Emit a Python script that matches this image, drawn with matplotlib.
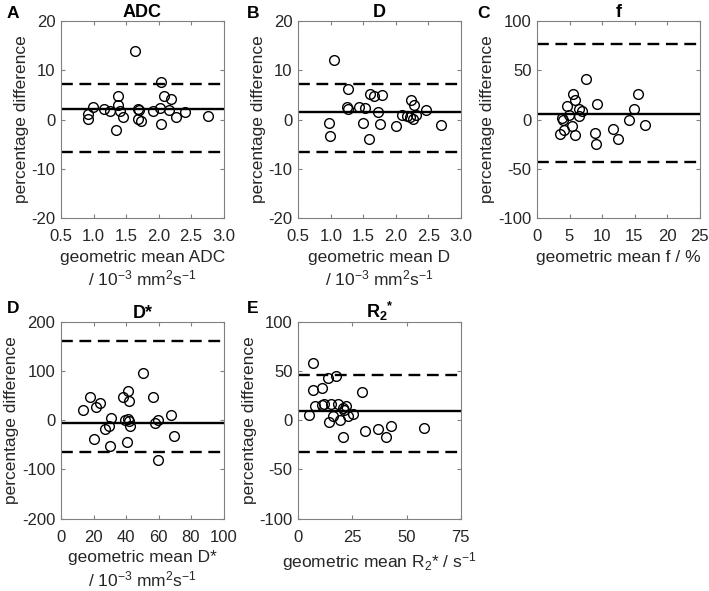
import numpy as np
import matplotlib
matplotlib.use("Agg")
import matplotlib.pyplot as plt

plt.rcParams['font.family'] = ['Liberation Sans', 'DejaVu Sans']
plt.rcParams['mathtext.fontset'] = 'custom'
plt.rcParams['mathtext.rm'] = 'Liberation Sans'
plt.rcParams['mathtext.it'] = 'Liberation Sans'
plt.rcParams['mathtext.bf'] = 'Liberation Sans:bold'
plt.rcParams['mathtext.default'] = 'regular'
plt.rcParams['axes.unicode_minus'] = False

# ADC
adc_x = [1.64, 2.04, 2.08, 2.19, 1.37, 1.38, 0.99, 1.16, 1.25, 1.41, 1.69, 1.70, 1.92,
         2.02, 2.16, 2.41, 0.91, 0.92, 1.45, 1.68, 1.73, 2.27, 2.76, 2.04, 1.35]
adc_y = [13.9, 7.6, 4.75, 4.1, 4.7, 3.0, 2.5, 2.2, 1.8, 1.8, 2.2, 2.0, 1.8,
         2.3, 2.0, 1.5, 1.15, 0.15, 0.5, 0.15, -0.4, 0.5, 0.75, -0.9, -2.1]
adc_lines = [2.08, 7.15, -6.5]

# D
d_x = [1.05, 1.26, 1.60, 1.67, 1.79, 2.23, 2.28, 1.25, 1.26, 1.44, 1.53, 1.73, 2.47,
       2.09, 2.17, 2.22, 2.26, 2.31, 0.97, 1.49, 1.76, 2.01, 2.69, 0.98, 1.58]
d_y = [12.1, 6.1, 5.1, 4.7, 4.95, 3.86, 2.85, 2.58, 2.17, 2.5, 2.24, 1.56, 2.03,
       0.95, 0.81, 0.54, 0.2, 0.95, -0.61, -0.75, -0.88, -1.36, -1.02, -3.39, -3.93]
d_lines = [1.52, 7.15, -6.5]

# f
f_x = [7.47, 5.57, 15.57, 5.88, 4.54, 9.28, 6.39, 6.91, 14.85, 4.95, 6.49, 3.92,
       4.02, 14.18, 5.41, 16.55, 4.12, 11.75, 3.61, 5.82, 8.87, 12.53, 9.02]
f_y = [40.7, 25.4, 25.4, 20.3, 14.2, 15.9, 10.8, 8.5, 10.5, 4.4, 3.05, 2.0,
       0.0, 0.0, -6.4, -5.1, -10.8, -9.8, -14.6, -15.9, -14.2, -19.3, -24.4]
f_lines = [5.9, 76.4, -42.8]

# D*
ds_x = [50.3, 41.2, 18.1, 38.4, 56.5, 42.1, 24.3, 21.6, 13.4, 30.5, 67.6, 39.6,
        41.0, 41.6, 59.6, 57.7, 42.3, 29.5, 27.0, 69.7, 20.2, 40.6, 30.3, 59.6]
ds_y = [94.9, 59.7, 46.1, 46.8, 46.1, 38.6, 35.3, 25.8, 21.0, 4.1, 10.2, 1.4,
        2.7, -1.4, 1.4, -6.1, -11.5, -12.2, -16.9, -32.5, -38.6, -44.1, -51.5, -81.4]
ds_lines = [-5.9, 161.0, -63.7]

# R2*
r2_x = [6.6, 17.6, 13.5, 6.7, 10.9, 29.2, 7.5, 11.0, 11.8, 14.9, 18.5, 21.9, 20.4,
        21.1, 5.1, 16.2, 25.3, 23.0, 14.1, 19.1, 30.6, 36.8, 42.6, 40.4, 58.0, 20.7]
r2_y = [58.0, 44.7, 43.1, 30.5, 32.2, 28.8, 14.9, 15.9, 16.3, 16.3, 16.6, 14.9, 12.2,
        10.2, 5.1, 4.4, 6.1, 4.1, -2.0, 0.7, -10.5, -8.5, -5.4, -16.6, -7.8, -17.3]
r2_lines = [9.7, 45.4, -31.8]

panels = [
    ('A', 'ADC', adc_x, adc_y, adc_lines, (0.5, 3.0), np.arange(0.5, 3.01, 0.5), '%.1f', (-20, 20), np.arange(-20, 21, 10),
     'geometric mean ADC\n/ 10$^{-3}$ mm$^{2}$s$^{-1}$'),
    ('B', 'D', d_x, d_y, d_lines, (0.5, 3.0), np.arange(0.5, 3.01, 0.5), '%.1f', (-20, 20), np.arange(-20, 21, 10),
     'geometric mean D\n/ 10$^{-3}$ mm$^{2}$s$^{-1}$'),
    ('C', 'f', f_x, f_y, f_lines, (0, 25), np.arange(0, 26, 5), '%d', (-100, 100), np.arange(-100, 101, 50),
     'geometric mean f / %'),
    ('D', 'D*', ds_x, ds_y, ds_lines, (0, 100), np.arange(0, 101, 20), '%d', (-200, 200), np.arange(-200, 201, 100),
     'geometric mean D*\n/ 10$^{-3}$ mm$^{2}$s$^{-1}$'),
    ('E', 'R$_2$$^{*}$', r2_x, r2_y, r2_lines, (0, 75), np.arange(0, 76, 25), '%d', (-100, 100), np.arange(-100, 101, 50),
     'geometric mean R$_2$* / s$^{-1}$'),
]

W, H = 709, 591
fig = plt.figure(figsize=(W / 100, H / 100), dpi=100)
lefts = [61, 298.3, 537]
tops = [21, 321.7]
aw, ah = 162.5, 197
# panel letter offsets (px) from the axes corner
letter_dx = [54, 51, 60, 54, 51]
letter_dy = [8, 8, 8, 13, 13]

for i, (letter, title, xs, ys, lines, xlim, xt, fmt, ylim, yt, xlab) in enumerate(panels):
    row, col = divmod(i, 3)
    l = lefts[col]
    t = tops[row]
    ax = fig.add_axes([l / W, 1 - (t + ah) / H, aw / W, ah / H])
    ax.plot(xs, ys, 'o', mfc='none', mec='black', ms=7, mew=1.0, zorder=3)
    ax.axhline(lines[0], color='black', lw=1.7)
    ax.axhline(lines[1], color='black', lw=1.7, linestyle=(0, (5, 2.8)))
    ax.axhline(lines[2], color='black', lw=1.7, linestyle=(0, (5, 2.8)))
    ax.set_xlim(xlim)
    ax.set_ylim(ylim)
    ax.set_xticks(xt)
    ax.set_xticklabels([fmt % v for v in xt])
    ax.set_yticks(yt)
    ax.tick_params(direction='in', top=True, right=True, length=3, width=0.8,
                   color='#808080', labelsize=12, labelcolor='#262626', pad=4)
    ax.tick_params(axis='x', pad=8)
    for s in ax.spines.values():
        s.set_color('#808080')
        s.set_linewidth(0.8)
    ax.set_title(title, fontsize=13, fontweight='bold', pad=3)
    ax.set_ylabel('percentage difference', fontsize=12.5, color='#262626', labelpad=2)
    ax.set_xlabel(xlab, fontsize=12.5, color='#262626', labelpad=4, linespacing=1.25)
    fig.text((l - letter_dx[i]) / W, 1 - (t - letter_dy[i]) / H, letter, fontsize=12.5,
             fontweight='bold', ha='left', va='center')

fig.savefig('out.png', dpi=100)
